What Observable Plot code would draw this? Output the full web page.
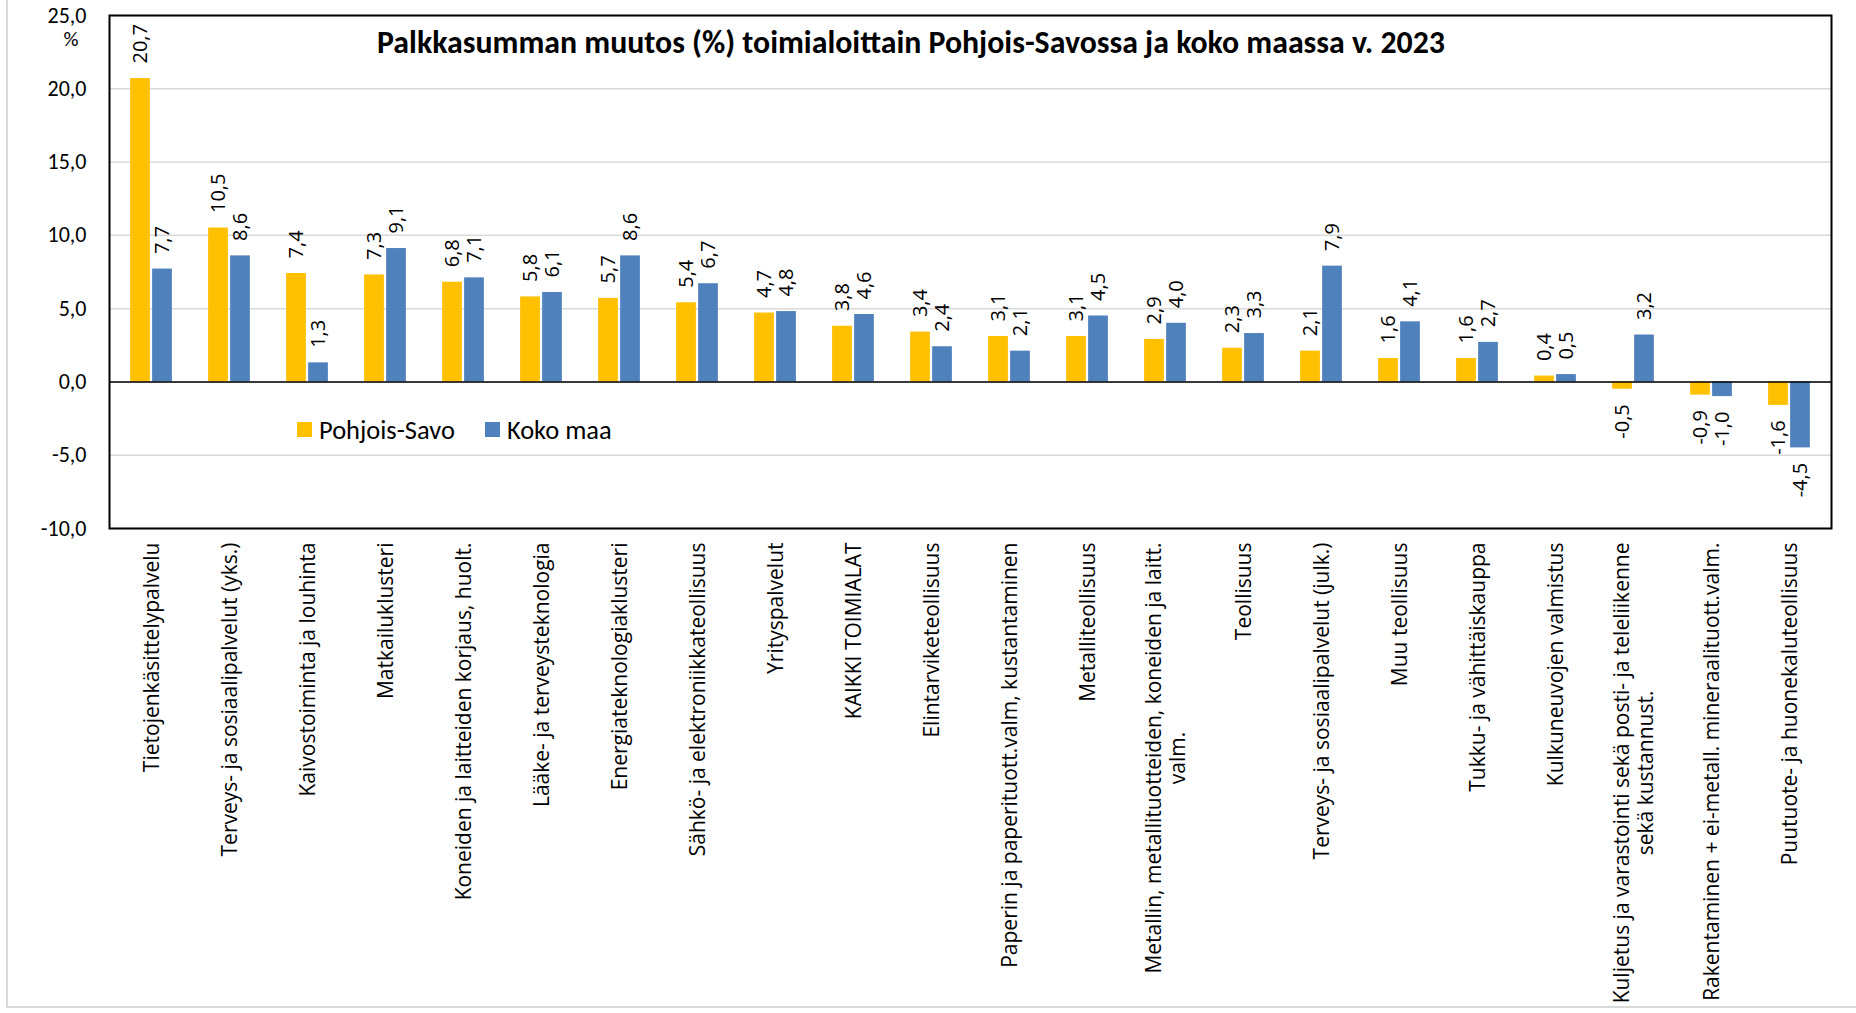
<!DOCTYPE html>
<html><head><meta charset="utf-8">
<script src="https://cdn.jsdelivr.net/npm/d3@7"></script>
<script src="https://cdn.jsdelivr.net/npm/@observablehq/plot@0.6"></script>
<style>
body{margin:0;background:#fff;}
#wrap{position:relative;width:1856px;height:1013px;overflow:hidden;background:#fff;}
#wrap svg{position:absolute;left:0;top:0;}
.ov{position:absolute;white-space:nowrap;color:#000;}
</style></head><body><div id="wrap"></div>
<script>
const categories = [
  "Tietojenkäsittelypalvelu",
  "Terveys- ja sosiaalipalvelut (yks.)",
  "Kaivostoiminta ja louhinta",
  "Matkailuklusteri",
  "Koneiden ja laitteiden korjaus, huolt.",
  "Lääke- ja terveysteknologia",
  "Energiateknologiaklusteri",
  "Sähkö- ja elektroniikkateollisuus",
  "Yrityspalvelut",
  "KAIKKI TOIMIALAT",
  "Elintarviketeollisuus",
  "Paperin ja paperituott.valm, kustantaminen",
  "Metalliteollisuus",
  "Metallin, metallituotteiden, koneiden ja laitt.\nvalm.",
  "Teollisuus",
  "Terveys- ja sosiaalipalvelut (julk.)",
  "Muu teollisuus",
  "Tukku- ja vähittäiskauppa",
  "Kulkuneuvojen valmistus",
  "Kuljetus ja varastointi sekä posti- ja teleliikenne\nsekä kustannust.",
  "Rakentaminen + ei-metall. mineraalituott.valm.",
  "Puutuote- ja huonekaluteollisuus"
];
const pohjoisSavo = [20.7, 10.5, 7.4, 7.3, 6.8, 5.8, 5.7, 5.4, 4.7, 3.8, 3.4, 3.1, 3.1, 2.9, 2.3, 2.1, 1.6, 1.6, 0.4, -0.5, -0.9, -1.6];
const kokoMaa     = [7.7, 8.6, 1.3, 9.1, 7.1, 6.1, 8.6, 6.7, 4.8, 4.6, 2.4, 2.1, 4.5, 4.0, 3.3, 7.9, 4.1, 2.7, 0.5, 3.2, -1.0, -4.5];
const seriesNames = ["Pohjois-Savo", "Koko maa"];
const seriesColors = ["#FFC000", "#4F81BD"];
const yTicks = [-10, -5, 0, 5, 10, 15, 20, 25];
const titleText = "Palkkasumman muutos (%) toimialoittain Pohjois-Savossa ja koko maassa v. 2023";
const yUnit = "%";

const W = 1856, H = 1013;
const mL = 109, mR = 25, mT = 15, mB = 485;
const bandW = (W - mL - mR) / categories.length;
const barW = 20, gap = 2;

const fmt = v => v.toFixed(1).replace(".", ",");
const ctx = document.createElement("canvas").getContext("2d");
function tw(t, font) { ctx.font = font; return ctx.measureText(t).width; }

const seriesValues = [pohjoisSavo, kokoMaa];
const rows = [];
categories.forEach((c, i) => seriesNames.forEach((s, k) => rows.push({cat: c, series: s, k, value: seriesValues[k][i]})));

const marks = [
  Plot.gridY(yTicks, {stroke: "#d9d9d9", strokeOpacity: 1, strokeWidth: 1.5})
];
seriesNames.forEach((s, k) => {
  const inL = k === 0 ? bandW / 2 - barW - gap / 2 : bandW / 2 + gap / 2;
  const inR = k === 0 ? bandW / 2 + gap / 2 : bandW / 2 - barW - gap / 2;
  marks.push(Plot.barY(rows.filter(d => d.k === k), {x: "cat", y: "value", fill: seriesColors[k], insetLeft: inL, insetRight: inR}));
});
marks.push(Plot.ruleY([0], {stroke: "#000", strokeWidth: 1.5}));
marks.push(Plot.frame({stroke: "#000", strokeWidth: 2}));
marks.push(Plot.axisY(yTicks, {tickSize: 0, tickPadding: 23, tickFormat: fmt, fontSize: 22, fontFamily: "Carlito, Lato", label: null}));
seriesNames.forEach((s, k) => {
  const dx = k === 0 ? -(barW + gap) / 2 : (barW + gap) / 2;
  marks.push(Plot.text(rows.filter(d => d.k === k && d.value >= 0), {x: "cat", y: "value", text: d => fmt(d.value), rotate: -90, textAnchor: "start", dx, dy: -15, fontSize: 20, fontFamily: "Open Sans", fill: "#000"}));
  marks.push(Plot.text(rows.filter(d => d.k === k && d.value < 0), {x: "cat", y: "value", text: d => fmt(d.value), rotate: -90, textAnchor: "end", dx, dy: 15, fontSize: 20, fontFamily: "Open Sans", fill: "#000"}));
});
const catSize = 21;
const catFont = `${catSize}px 'Open Sans'`;
categories.forEach(c => {
  const w = Math.max(...c.split("\n").map(l => tw(l, catFont)));
  marks.push(Plot.text([c], {x: d => d, frameAnchor: "bottom", dy: 14 + w / 2, rotate: -90, textAnchor: "middle", lineAnchor: "middle", lineHeight: 1.13, fontSize: catSize, fontFamily: "Open Sans", fill: "#000", text: d => d}));
});

const chart = Plot.plot({
  width: W, height: H,
  marginLeft: mL, marginRight: mR, marginTop: mT, marginBottom: mB,
  x: {domain: categories, padding: 0, axis: null},
  y: {domain: [-10, 25], axis: null},
  style: {background: "transparent", color: "#000", fontFamily: "Open Sans"},
  marks
});
const wrap = document.getElementById("wrap");

const border = document.createElement("div");
border.style.cssText = "position:absolute;left:6px;top:-10px;width:1860px;height:1018px;border-left:2.5px solid #d9d9d9;border-bottom:2.5px solid #d9d9d9;box-sizing:border-box;";
wrap.appendChild(border);
wrap.appendChild(chart);

// title fitted to reference width
const titleFont = "'Carlito', 'Lato'";
const tSize = 28 * 1068 / tw(titleText, `bold 28px ${titleFont}`);
const title = document.createElement("div");
title.className = "ov";
title.textContent = titleText;
title.style.cssText += `left:0;width:1822px;text-align:center;top:23px;height:40px;line-height:40px;font:bold ${tSize}px ${titleFont};`;
wrap.appendChild(title);

const unit = document.createElement("div");
unit.className = "ov";
unit.textContent = yUnit;
unit.style.cssText += "left:51px;width:40px;text-align:center;top:26px;line-height:22px;font:21px 'Carlito','Lato';";
wrap.appendChild(unit);

// legend
const legFont = "'Carlito', 'Lato'";
const lSize = 22 * 136 / tw(seriesNames[0], `22px ${legFont}`);
let lx = 297;
seriesNames.forEach((s, k) => {
  const sw = document.createElement("div");
  sw.style.cssText = `position:absolute;left:${lx}px;top:422px;width:15px;height:15px;background:${seriesColors[k]};`;
  wrap.appendChild(sw);
  const t = document.createElement("div");
  t.className = "ov";
  t.textContent = s;
  t.style.cssText += `left:${lx + 22}px;top:414px;height:30px;line-height:30px;font:${lSize}px ${legFont};`;
  wrap.appendChild(t);
  lx += 22 + tw(s, `${lSize}px ${legFont}`) + 30;
});
</script></body></html>
